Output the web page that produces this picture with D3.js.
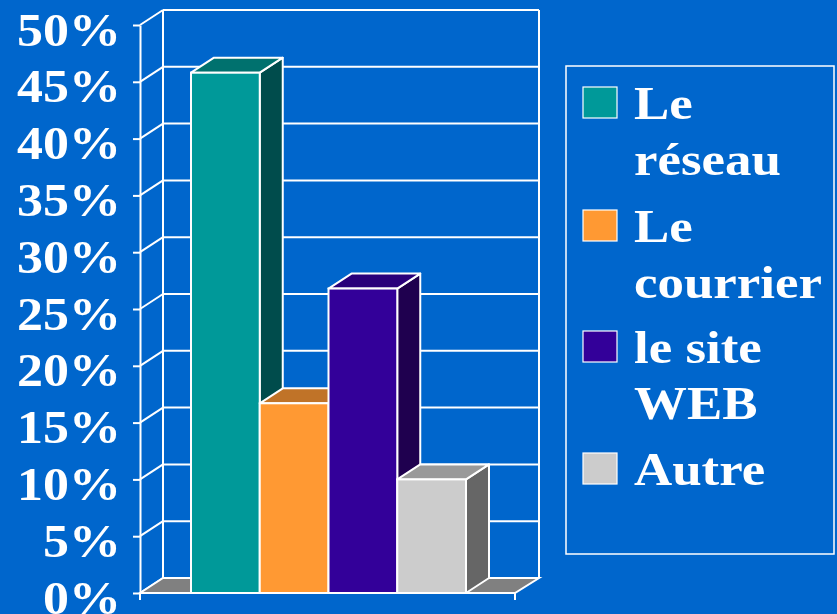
<!DOCTYPE html>
<html>
<head>
<meta charset="utf-8">
<script src="https://cdn.jsdelivr.net/npm/d3@7"></script>
<style>
  html, body { margin: 0; padding: 0; background: #0066cc; }
  svg { display: block; }
</style>
</head>
<body>
<div id="chart-container"></div>
<script>
// data
const series = ["Le réseau", "Le courrier", "le site WEB", "Autre"];
const legendLines = [["Le", "réseau"], ["Le", "courrier"], ["le site", "WEB"], ["Autre"]];
const values = [45.8, 16.7, 26.8, 10];
const yTicks = [0, 5, 10, 15, 20, 25, 30, 35, 40, 45, 50];

// styles
const frontColor = ["#009999", "#ff9933", "#330099", "#cccccc"];
const topColor = ["#00716e", "#c07328", "#29007a", "#999999"];
const sideColor = ["#004c4c", "#7f4c19", "#1f004f", "#666666"];

const width = 837, height = 614;
const DX = 23, DY = -15;
const stretch = 1.13;
const legendStretch = 1.15;
const sw = 2;
const font = "'Liberation Serif', 'Times New Roman', serif";

const svg = d3.select("#chart-container").append("svg")
  .attr("width", width)
  .attr("height", height);

svg.append("rect").attr("width", width).attr("height", height).attr("fill", "#0066cc");

//Defines the scales
const y = d3.scaleLinear().domain([0, 50]).range([593, 25]);
const plotX = [140, 515];
const x = d3.scaleBand().domain(series).range([191, 466]).padding(0);

let g = svg.append("g");

// back wall gridlines
g.selectAll(".grid")
  .data(yTicks)
  .enter().append("line")
  .attr("class", "grid")
  .attr("x1", plotX[0] + DX).attr("x2", plotX[1] + DX + 1)
  .attr("y1", d => y(d) + DY).attr("y2", d => y(d) + DY)
  .attr("stroke", "white").attr("stroke-width", sw);

// diagonals from the front axis to the back wall
g.selectAll(".diag")
  .data(yTicks)
  .enter().append("line")
  .attr("class", "diag")
  .attr("x1", plotX[0]).attr("x2", plotX[0] + DX)
  .attr("y1", d => y(d)).attr("y2", d => y(d) + DY)
  .attr("stroke", "white").attr("stroke-width", sw);

// back wall verticals
[plotX[0] + DX, plotX[1] + DX + 1].forEach(vx => {
  g.append("line")
    .attr("x1", vx).attr("x2", vx)
    .attr("y1", y(50) + DY).attr("y2", y(0) + DY)
    .attr("stroke", "white").attr("stroke-width", sw);
});

// floor
g.append("polygon")
  .attr("points", [
    [plotX[0], y(0)], [plotX[0] + DX, y(0) + DY],
    [plotX[1] + DX + 1, y(0) + DY], [plotX[1], y(0)]
  ].join(" "))
  .attr("fill", "#808080")
  .attr("stroke", "white").attr("stroke-width", sw);

// bars
const bars = g.selectAll(".bar")
  .data(values)
  .enter().append("g")
  .attr("class", "bar");

bars.append("polygon")
  .attr("points", (d, i) => {
    const x0 = x(series[i]) + x.bandwidth(), yt = y(d), yb = y(0);
    return [[x0, yt], [x0 + DX, yt + DY], [x0 + DX, yb + DY], [x0, yb]].join(" ");
  })
  .attr("fill", (d, i) => sideColor[i])
  .attr("stroke", "white").attr("stroke-width", sw).attr("stroke-linejoin", "round");

bars.append("polygon")
  .attr("points", (d, i) => {
    const x0 = x(series[i]), w = x.bandwidth(), yt = y(d);
    return [[x0, yt], [x0 + DX, yt + DY], [x0 + w + DX, yt + DY], [x0 + w, yt]].join(" ");
  })
  .attr("fill", (d, i) => topColor[i])
  .attr("stroke", "white").attr("stroke-width", sw).attr("stroke-linejoin", "round");

bars.append("rect")
  .attr("x", (d, i) => x(series[i]))
  .attr("y", d => y(d))
  .attr("width", x.bandwidth())
  .attr("height", d => y(0) - y(d))
  .attr("fill", (d, i) => frontColor[i])
  .attr("stroke", "white").attr("stroke-width", sw);

// Draw Axes
const yAxis = svg.append("g")
  .attr("transform", `translate(${plotX[0]},0)`)
  .call(d3.axisLeft(y).tickValues(yTicks).tickSize(7).tickSizeOuter(0).tickFormat(d => d + "%"));

yAxis.select(".domain").attr("stroke", "white").attr("stroke-width", sw);
yAxis.selectAll(".tick line").attr("stroke", "white").attr("stroke-width", sw);
yAxis.selectAll(".tick text")
  .attr("fill", "white")
  .attr("x", null).attr("dy", null)
  .attr("transform", `translate(-19,20) scale(${stretch},1)`)
  .style("font-family", font)
  .style("font-weight", "bold")
  .style("font-size", "46px");

// bottom axis line with end ticks
svg.append("line")
  .attr("x1", plotX[0]).attr("x2", plotX[1])
  .attr("y1", y(0)).attr("y2", y(0))
  .attr("stroke", "white").attr("stroke-width", sw);
plotX.forEach(px => {
  svg.append("line")
    .attr("x1", px).attr("x2", px)
    .attr("y1", y(0)).attr("y2", y(0) + 7)
    .attr("stroke", "white").attr("stroke-width", sw);
});

// legend
const legend = svg.append("g");
legend.append("rect")
  .attr("x", 566).attr("y", 66)
  .attr("width", 268).attr("height", 488)
  .attr("fill", "none")
  .attr("stroke", "white").attr("stroke-width", 1.5);

const firstBaseline = [119, 242, 363, 485];
const item = legend.selectAll(".item")
  .data(series)
  .enter().append("g")
  .attr("class", "item")
  .attr("transform", (d, i) => `translate(0,${firstBaseline[i]})`);

item.append("rect")
  .attr("x", 583).attr("y", -32)
  .attr("width", 34).attr("height", 31)
  .attr("fill", (d, i) => frontColor[i])
  .attr("stroke", "white").attr("stroke-width", 1.2);

item.each(function (d, i) {
  d3.select(this).selectAll("text")
    .data(legendLines[i])
    .enter().append("text")
    .attr("transform", (t, j) => `translate(634,${j * 56}) scale(${legendStretch},1)`)
    .attr("fill", "white")
    .style("font-family", font)
    .style("font-weight", "bold")
    .style("font-size", "46px")
    .text(t => t);
});
</script>
</body>
</html>
